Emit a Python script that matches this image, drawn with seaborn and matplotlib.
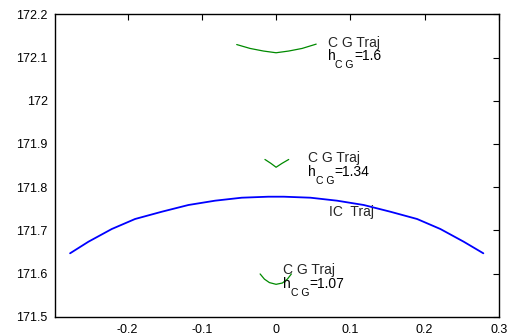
import matplotlib
matplotlib.use("Agg")
import matplotlib.pyplot as plt
import seaborn as sns
import numpy as np
from matplotlib.transforms import IdentityTransform

# ---- data ----
ic_x = [-0.2773, -0.2526, -0.2212, -0.1898, -0.1539, -0.1180, -0.0821, -0.0462, -0.0104,
        0.0104, 0.0462, 0.0821, 0.1180, 0.1539, 0.1898, 0.2212, 0.2526, 0.2790]
ic_y = [171.6468, 171.6736, 171.7030, 171.7262, 171.7430, 171.7586, 171.7686, 171.7755, 171.7778,
        171.7778, 171.7755, 171.7686, 171.7586, 171.7430, 171.7262, 171.7030, 171.6736, 171.6468]

cg160_x = [-0.053, -0.035, -0.017, 0.000, 0.017, 0.035, 0.054]
cg160_y = [172.130, 172.121, 172.115, 172.111, 172.115, 172.121, 172.131]

cg134_x = [-0.015, -0.007, 0.000, 0.008, 0.017]
cg134_y = [171.864, 171.855, 171.846, 171.855, 171.864]

cg107_x = [-0.0215, -0.0157, -0.0090, 0.0000, 0.0085, 0.0152, 0.0206]
cg107_y = [171.599, 171.587, 171.579, 171.575, 171.578, 171.587, 171.599]

x_ticks = [-0.2, -0.1, 0.0, 0.1, 0.2, 0.3]
x_tick_labels = ["-0.2", "-0.1", "0", "0.1", "0.2", "0.3"]
y_ticks = [171.5, 171.6, 171.7, 171.8, 171.9, 172.0, 172.1, 172.2]
y_tick_labels = ["171.5", "171.6", "171.7", "171.8", "171.9", "172", "172.1", "172.2"]

cg_values = ["1.6", "1.34", "1.07"]

# ---- style ----
sns.set_style("white")
plt.rcParams["font.family"] = ["Liberation Sans", "DejaVu Sans"]

fig = plt.figure(figsize=(5.23, 3.36), dpi=100)
ax = fig.add_axes([0.1046, 0.0574, 0.954 - 0.1046, 0.9574 - 0.0574])

blue = "#0000ff"
green = "#008a00"
sns.lineplot(x=ic_x, y=ic_y, ax=ax, color=blue, lw=1.3, sort=False, estimator=None)
for gx, gy in [(cg160_x, cg160_y), (cg134_x, cg134_y), (cg107_x, cg107_y)]:
    sns.lineplot(x=gx, y=gy, ax=ax, color=green, lw=0.9, sort=False, estimator=None)

ax.set_xlim(-0.298, 0.3)
ax.set_ylim(171.5, 172.2)
ax.set_xticks(x_ticks)
ax.set_xticklabels(x_tick_labels)
ax.set_yticks(y_ticks)
ax.set_yticklabels(y_tick_labels)
ax.tick_params(direction="in", length=4, width=0.8, top=True, right=True,
               labelsize=9, colors="black", pad=5)
for s in ax.spines.values():
    s.set_visible(True)
    s.set_color("black")
    s.set_linewidth(1.0)

# ---- annotations ----
FS = 10
renderer = fig.canvas.get_renderer()


def seq_text(x, y, parts):
    X, Y = ax.transData.transform((x, y))
    for s, size, dy in parts:
        t = fig.text(X, Y - dy, s, transform=IdentityTransform(), fontsize=size,
                     va="baseline", ha="left", color="black")
        X += t.get_window_extent(renderer).width


label_pos = [(0.0694, 172.1236, 172.0942), (0.0433, 171.8588, 171.8264), (0.0097, 171.5981, 171.5657)]
for (lx, ly1, ly2), val in zip(label_pos, cg_values):
    ax.text(lx, ly1, "C G Traj", fontsize=FS, va="baseline", ha="left")
    seq_text(lx, ly2, [("h", FS, 0), ("C G", FS * 0.75, 8), ("=" + val, FS, 0)])

ax.text(0.0717, 171.7338, "IC  Traj", fontsize=FS, va="baseline", ha="left")

fig.savefig("out.png", dpi=100)
